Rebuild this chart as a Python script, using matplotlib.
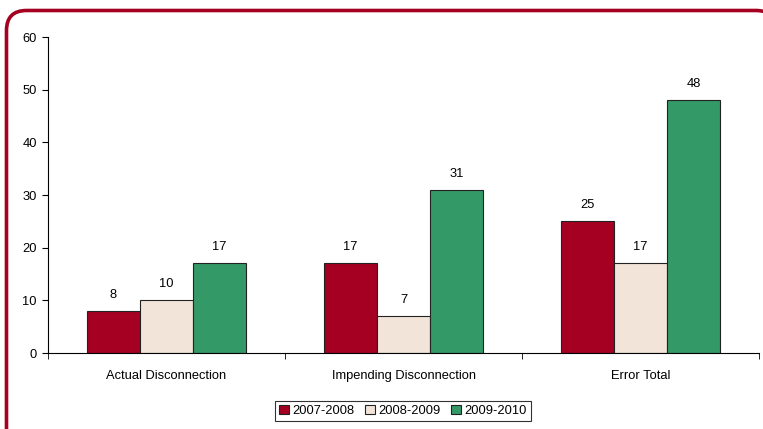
import matplotlib
matplotlib.use("Agg")
import matplotlib.pyplot as plt
from matplotlib.patches import FancyBboxPatch
import numpy as np

plt.rcParams['font.family'] = ['Liberation Sans', 'DejaVu Sans']

categories = ["Actual Disconnection", "Impending Disconnection", "Error Total"]
series_names = ["2007-2008", "2008-2009", "2009-2010"]
v2007 = [8, 17, 25]
v2008 = [10, 7, 17]
v2009 = [17, 31, 48]
colors = ["#A50021", "#F2E4D8", "#339966"]

W, H = 763, 429
fig = plt.figure(figsize=(W/100, H/100), dpi=100)

# Rounded frame drawn in pixel coordinates
bg = fig.add_axes([0, 0, 1, 1])
bg.set_xlim(0, W)
bg.set_ylim(H, 0)
bg.axis("off")
frame = FancyBboxPatch((6.5, 10.5), 776 - 6.5, 480 - 10.5,
                       boxstyle="round,pad=0,rounding_size=20",
                       facecolor="none", edgecolor="#A50021", linewidth=2.6)
bg.add_patch(frame)

ax = fig.add_axes([48/W, 76/H, (759-48)/W, (353-37)/H])
x = np.arange(len(categories))
w = 0.224
fs = 9.3
for i, (vals, name, c) in enumerate(zip([v2007, v2008, v2009], series_names, colors)):
    bars = ax.bar(x + (i - 1) * w, vals, w, color=c, edgecolor="#222222", linewidth=0.8, label=name)
    for b, v in zip(bars, vals):
        ax.text(b.get_x() + b.get_width()/2, v + 1.9, str(v), ha="center", va="bottom", fontsize=fs)

ax.set_xlim(-0.5, 2.5)
ax.set_ylim(0, 60)
ax.set_yticks(range(0, 61, 10))
ax.set_xticks(x)
ax.set_xticklabels(categories, fontsize=fs)
ax.set_xticks([-0.5, 0.5, 1.5, 2.5], minor=True)
ax.tick_params(axis="x", which="major", length=0, pad=12)
ax.tick_params(axis="x", which="minor", length=4, direction="out")
ax.tick_params(axis="y", labelsize=fs, length=4, direction="out", pad=4)
ax.spines["top"].set_visible(False)
ax.spines["right"].set_visible(False)
for s in ["left", "bottom"]:
    ax.spines[s].set_linewidth(0.8)

leg = fig.legend(loc="center", bbox_to_anchor=(403/W, 1 - 411/H), ncol=3, fontsize=fs,
                 frameon=True, fancybox=False, edgecolor="black", handlelength=0.75,
                 handleheight=0.75, handletextpad=0.3, columnspacing=0.8, borderpad=0.3)
leg.get_frame().set_linewidth(0.8)

fig.savefig("out.png", dpi=100)
